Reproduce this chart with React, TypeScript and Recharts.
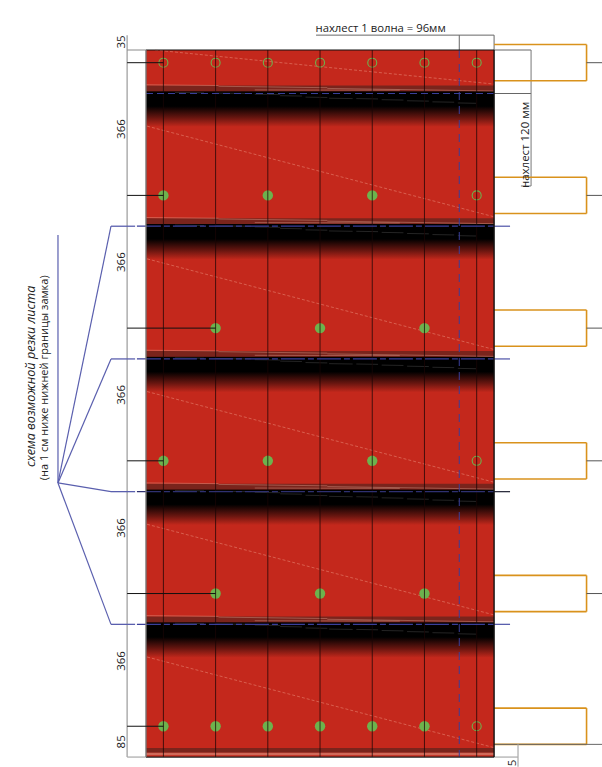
import { ScatterChart, Scatter, XAxis, YAxis, ReferenceArea, ReferenceLine, ReferenceDot } from "recharts";

// everything is in millimetres, measured from the top left corner of the sheet
const SHEET_W = 960;
const SHEET_H = 1950;
const X_DOMAIN = [-402.6, 1257.6];
const Y_DOMAIN = [-137.9, 1977.4];

const RED = "#c4281c";
const GREEN = "#6db24d";
const ORANGE = "#d9921c";
const BLUE = "#5a5fae";
const NAVY = "#3a3f9a";
const GRAY = "#8a8a8a";
const FONT = "Open Sans";

const ribs = [48, 192, 336, 480, 624, 768, 912];
const screwRows = [35, 401, 767, 1133, 1499, 1865];
const joints = [120, 486, 852, 1218, 1584];
const cutLines = [486, 852, 1218, 1584];
const leaderEnds = [48, 48, 192, 48, 192, 48];
const stubRows = [35, 401, 767, 1133, 1499];

const hollowScrews = [
  { x: 48, y: 35 }, { x: 192, y: 35 }, { x: 336, y: 35 }, { x: 480, y: 35 }, { x: 624, y: 35 }, { x: 768, y: 35 }, { x: 912, y: 35 },
  { x: 912, y: 401 }, { x: 912, y: 1133 }, { x: 912, y: 1865 },
];
const filledScrews = [
  { x: 48, y: 401 }, { x: 336, y: 401 }, { x: 624, y: 401 },
  { x: 192, y: 767 }, { x: 480, y: 767 }, { x: 768, y: 767 },
  { x: 48, y: 1133 }, { x: 336, y: 1133 }, { x: 624, y: 1133 },
  { x: 192, y: 1499 }, { x: 480, y: 1499 }, { x: 768, y: 1499 },
  { x: 48, y: 1865 }, { x: 192, y: 1865 }, { x: 336, y: 1865 }, { x: 480, y: 1865 }, { x: 624, y: 1865 }, { x: 768, y: 1865 },
];

// [x1, x2, offset from joint]
const blackStreaks = [
  [80, 160, -3], [190, 290, -1], [300, 370, 2], [370, 430, 6], [440, 500, 10], [505, 570, 13],
  [580, 640, 14], [650, 710, 17], [720, 780, 20], [790, 850, 23], [860, 910, 26],
];
// [x1, y1, x2, y2] relative to the joint
const bandStreaks = [
  [0, -24, 200, -22], [200, -20, 500, -16], [500, -14, 960, -7], [300, -10, 700, -9],
];
const diagonals = [
  [25, 0, 960, 94], [3, 210, 960, 460], [3, 576, 960, 826], [3, 942, 960, 1192], [3, 1308, 960, 1558], [3, 1674, 960, 1924],
];

const sideLabels = [
  { v: "35", y: -22 }, { v: "366", y: 218 }, { v: "366", y: 585 }, { v: "366", y: 951 }, { v: "366", y: 1318 }, { v: "366", y: 1685 }, { v: "85", y: 1908 },
];

function seg(key: string, x1: number, y1: number, x2: number, y2: number, stroke: string, width = 1, dash?: string, z?: number) {
  return (
    <ReferenceLine
      key={key}
      segment={[{ x: x1, y: y1 }, { x: x2, y: y2 }]}
      stroke={stroke}
      strokeWidth={width}
      strokeDasharray={dash}
      zIndex={z}
    />
  );
}

function text(key: string, x: number, y: number, value: string, angle = 0, italic = false, size = 11.3) {
  return (
    <ReferenceDot
      key={key}
      x={x}
      y={y}
      r={0}
      fill="none"
      stroke="none"
      label={{ value, angle, position: "center", fill: "#222", fontSize: size, fontFamily: FONT, fontStyle: italic ? "italic" : "normal" }}
    />
  );
}

export default function App() {
  return (
    <div style={{ position: "absolute", left: 0, top: 0, width: 602, height: 767, background: "#fff" }}>
      <ScatterChart width={602} height={767} margin={{ top: 0, right: 0, bottom: 0, left: 0 }}>
        <defs>
          <linearGradient id="fade" x1="0" y1="0" x2="0" y2="1">
            <stop offset="0%" stopColor="#000" />
            <stop offset="42%" stopColor="#000" />
            <stop offset="75%" stopColor="#6a1610" />
            <stop offset="100%" stopColor={RED} />
          </linearGradient>
        </defs>
        <XAxis type="number" dataKey="x" domain={X_DOMAIN} hide allowDataOverflow />
        <YAxis type="number" dataKey="y" domain={Y_DOMAIN} reversed hide allowDataOverflow />

        <ReferenceArea x1={0} x2={SHEET_W} y1={0} y2={SHEET_H} fill={RED} fillOpacity={1} stroke="none" />
        {joints.map((j) => (
          <ReferenceArea key={"band" + j} x1={0} x2={SHEET_W} y1={j - 22} y2={j - 6} fill="#7a241c" fillOpacity={1} stroke="none" />
        ))}
        {joints.map((j) => (
          <ReferenceArea key={"fade" + j} x1={0} x2={SHEET_W} y1={j - 6} y2={j + 92} fill="url(#fade)" fillOpacity={1} stroke="none" />
        ))}
        <ReferenceArea x1={0} x2={SHEET_W} y1={1925} y2={1938} fill="#7a241c" fillOpacity={1} stroke="none" />
        <ReferenceArea x1={0} x2={SHEET_W} y1={1938} y2={1945} fill="#d06a5a" fillOpacity={1} stroke="none" />

        {joints.flatMap((j) =>
          bandStreaks.map((s, i) => seg(`bs${j}-${i}`, s[0], j + s[1], s[2], j + s[3], "rgba(240,190,170,0.35)", 1))
        )}
        {joints.flatMap((j) =>
          blackStreaks.map((s, i) => seg(`ks${j}-${i}`, s[0], j + s[2], s[1], j + s[2] + 1, "#333", 0.7))
        )}
        {diagonals.map((d, i) => seg("diag" + i, d[0], d[1], d[2], d[3], "rgba(245,170,150,0.6)", 0.7, "3 2"))}

        <Scatter
          data={filledScrews}
          isAnimationActive={false}
          shape={(p: any) => <circle cx={p.cx} cy={p.cy} r={5.2} fill={GREEN} />}
        />
        <Scatter
          data={hollowScrews}
          isAnimationActive={false}
          shape={(p: any) => <circle cx={p.cx} cy={p.cy} r={4.5} fill="none" stroke={GREEN} strokeWidth={1.1} />}
        />

        {ribs.map((x) => seg("rib" + x, x, 0, x, SHEET_H, "rgba(25,5,5,0.75)", 1, undefined, 700))}

        {seg("dash96", 864, 0, 864, SHEET_H, NAVY, 1, "8 6", 700)}
        {seg("dash120", 0, 120, SHEET_W, 120, NAVY, 1, "7 4", 700)}
        {cutLines.map((y) => seg("cutL" + y, -96.5, y, -30, y, BLUE, 1.3, undefined, 700))}
        {cutLines.map((y) => seg("cut" + y, -25, y, SHEET_W, y, y === 1218 ? "#2e3070" : NAVY, 1.3, "24 3 6 3", 700))}
        {cutLines.map((y) => seg("cutR" + y, SHEET_W, y, 1004, y, y === 1218 ? "#2e3040" : BLUE, 1.3, undefined, 700))}
        {cutLines.map((y) => seg("fan" + y, -242.7, 1194, -96.5, y, BLUE, 1.2))}
        {seg("fanV", -242.7, 510, -242.7, 1194, BLUE, 1.2)}

        {seg("edgeT", 0, 0, SHEET_W, 0, "#111", 1.2, undefined, 700)}
        {seg("edgeB", 0, SHEET_H, SHEET_W, SHEET_H, "#222", 1.2, undefined, 700)}
        {seg("edgeR", SHEET_W, 0, SHEET_W, SHEET_H, "#111", 1.4, undefined, 700)}
        {seg("edgeL", 0, 0, 0, SHEET_H, "#777", 1.4, undefined, 700)}

        {seg("dimL", -52, -41, -52, SHEET_H, "#a8a8a8", 1.4)}
        {seg("dimLt", -52, 0, 0, 0, GRAY, 1)}
        {seg("dimLb", -52, SHEET_H, 0, SHEET_H, "#a8a8a8", 1.2)}
        {screwRows.map((y, i) => seg("lead" + y, -52, y, leaderEnds[i], y, "#111", 1, undefined, 700))}

        {seg("dimT", 469, -41, SHEET_W, -41, "#666", 1)}
        {seg("dimT1", 864, -41, 864, 0, "#666", 1)}
        {seg("dimT2", SHEET_W, -41, SHEET_W, 0, "#666", 1)}

        {seg("dimR1", SHEET_W, 0, 1062, 0, "#666", 1)}
        {seg("dimR2", SHEET_W, 120, 1062, 120, "#666", 1)}
        {seg("dimR3", 1062, 0, 1062, 375, "#777", 1)}
        {seg("dimR4", 1034, 375, 1062, 375, "#777", 1)}

        {screwRows.flatMap((y) => [
          seg("brT" + y, SHEET_W, y - 50, 1215, y - 50, ORANGE, 1.6),
          seg("brB" + y, SHEET_W, y + 50, 1215, y + 50, ORANGE, 1.6),
          seg("brR" + y, 1215, y - 50, 1215, y + 50, ORANGE, 1.6),
        ])}
        {stubRows.map((y) => seg("stub" + y, 1215, y, 1257.6, y, "#555", 1))}

        {seg("dim5a", SHEET_W, 1915, 1257.6, 1915, "#666", 1)}
        {seg("dim5b", 1026, 1915, 1026, 1977, "#aaa", 1.2)}
        {seg("dim5c", SHEET_W, SHEET_H, 1026, SHEET_H, "#aaa", 1.2)}

        {sideLabels.map((l, i) => text("side" + i, -69, l.y, l.v, -90, false, 11.5))}
        {text("t96", 647, -61, "нахлест 1 волна = 96мм")}
        {text("t120", 1045, 262, "нахлест 120 мм", -90, false, 11.5)}
        {text("t5", 1009, 1966, "5", -90, false, 11.5)}
        {text("note1", -317, 900, "схема возможной резки листа", -90, true, 12.6)}
        {text("note2", -281, 904, "(на 1 см ниже нижней границы замка)", -90, false, 11)}
      </ScatterChart>
    </div>
  );
}
